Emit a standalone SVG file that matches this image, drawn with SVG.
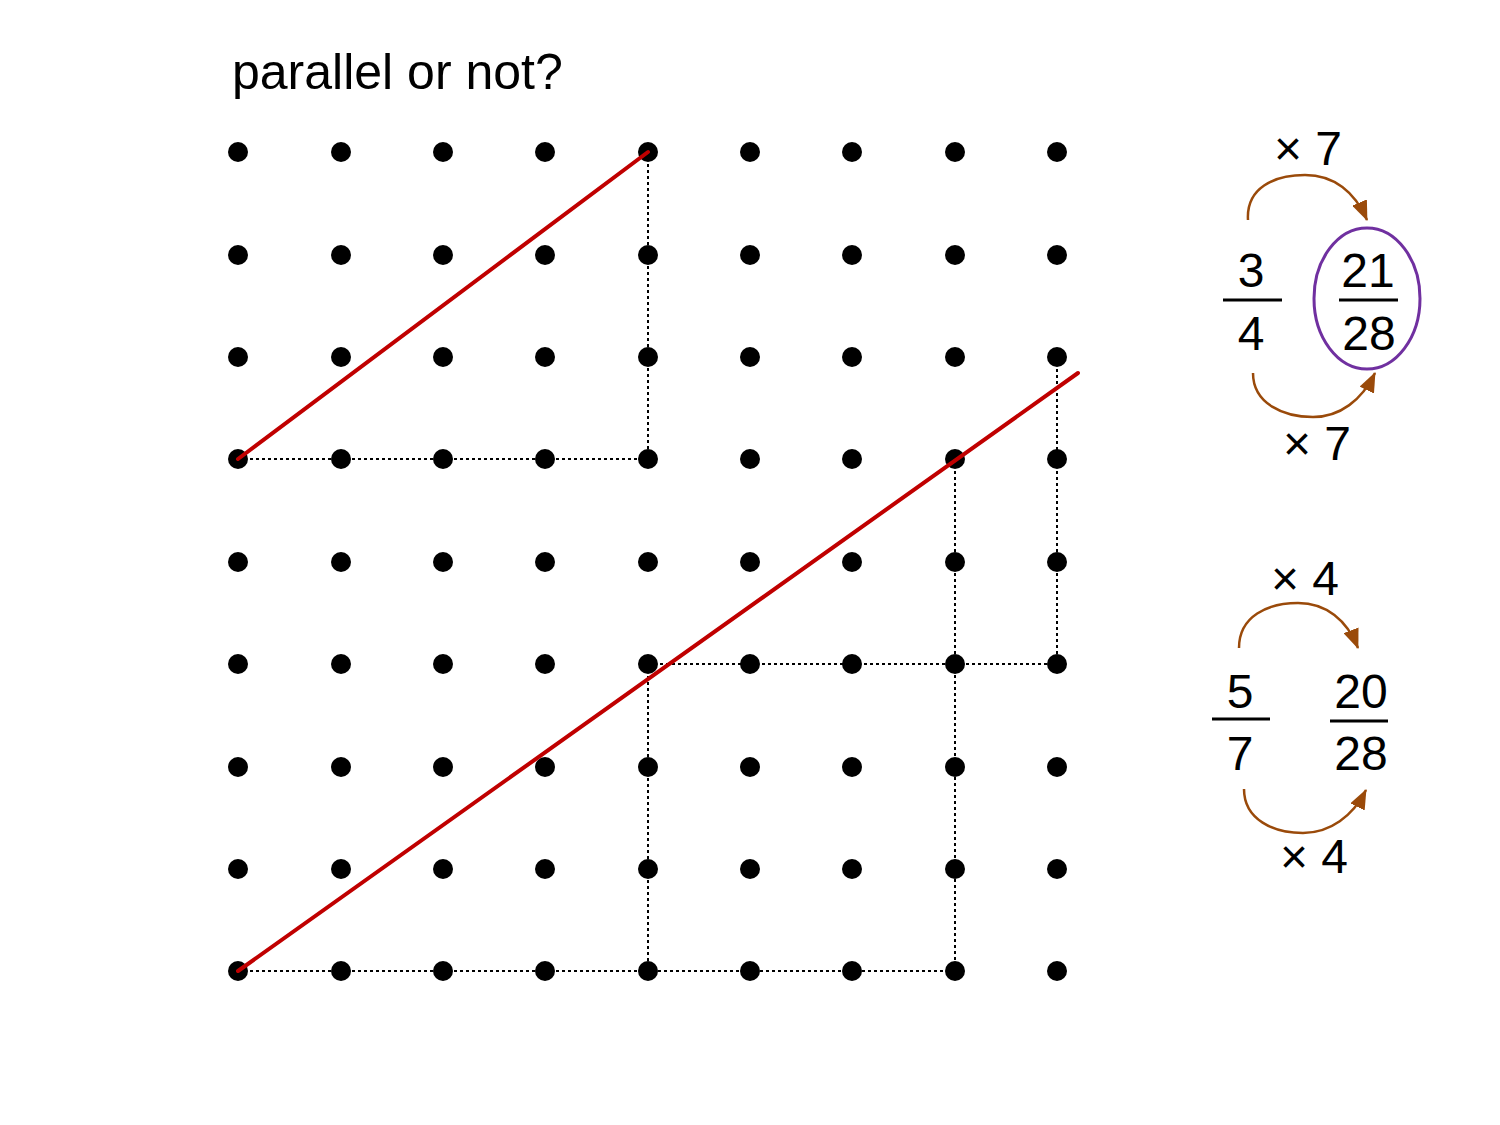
<svg xmlns="http://www.w3.org/2000/svg" width="1500" height="1125" viewBox="0 0 1500 1125">
<defs>
<style>
text{font-family:"Liberation Sans",Arial,sans-serif;fill:#000}
.t{font-size:48px}
.n{font-size:48px;text-anchor:middle}
.fl{stroke:#000;stroke-width:3}
.dot{fill:#000}
.dash{stroke:#000;stroke-width:2;stroke-dasharray:3 3;fill:none}
.red{stroke:#C00000;stroke-width:4;stroke-linecap:round;fill:none}
.arc{stroke:#9A4A0A;stroke-width:2.5;fill:none;marker-end:url(#ah)}
</style>
<marker id="ah" markerUnits="userSpaceOnUse" markerWidth="20" markerHeight="16" viewBox="0 0 20 16" refX="19" refY="8" orient="auto">
<path d="M0,0 L20,8 L0,16 z" fill="#9A4A0A"/>
</marker>
<circle id="d" r="10" class="dot"/>
</defs>
<rect width="1500" height="1125" fill="#fff"/>
<text id="title" x="232" y="89" style="font-size:50px">parallel or not?</text>
<g id="grid">
<g id="r1"><use href="#d" x="238" y="152"/><use href="#d" x="341" y="152"/><use href="#d" x="443" y="152"/><use href="#d" x="545" y="152"/><use href="#d" x="648" y="152"/><use href="#d" x="750" y="152"/><use href="#d" x="852" y="152"/><use href="#d" x="955" y="152"/><use href="#d" x="1057" y="152"/></g>
<g id="r2"><use href="#d" x="238" y="255"/><use href="#d" x="341" y="255"/><use href="#d" x="443" y="255"/><use href="#d" x="545" y="255"/><use href="#d" x="648" y="255"/><use href="#d" x="750" y="255"/><use href="#d" x="852" y="255"/><use href="#d" x="955" y="255"/><use href="#d" x="1057" y="255"/></g>
<g id="r3"><use href="#d" x="238" y="357"/><use href="#d" x="341" y="357"/><use href="#d" x="443" y="357"/><use href="#d" x="545" y="357"/><use href="#d" x="648" y="357"/><use href="#d" x="750" y="357"/><use href="#d" x="852" y="357"/><use href="#d" x="955" y="357"/><use href="#d" x="1057" y="357"/></g>
<g id="r4"><use href="#d" x="238" y="459"/><use href="#d" x="341" y="459"/><use href="#d" x="443" y="459"/><use href="#d" x="545" y="459"/><use href="#d" x="648" y="459"/><use href="#d" x="750" y="459"/><use href="#d" x="852" y="459"/><use href="#d" x="955" y="459"/><use href="#d" x="1057" y="459"/></g>
<g id="r5"><use href="#d" x="238" y="562"/><use href="#d" x="341" y="562"/><use href="#d" x="443" y="562"/><use href="#d" x="545" y="562"/><use href="#d" x="648" y="562"/><use href="#d" x="750" y="562"/><use href="#d" x="852" y="562"/><use href="#d" x="955" y="562"/><use href="#d" x="1057" y="562"/></g>
<g id="r6"><use href="#d" x="238" y="664"/><use href="#d" x="341" y="664"/><use href="#d" x="443" y="664"/><use href="#d" x="545" y="664"/><use href="#d" x="648" y="664"/><use href="#d" x="750" y="664"/><use href="#d" x="852" y="664"/><use href="#d" x="955" y="664"/><use href="#d" x="1057" y="664"/></g>
<g id="r7"><use href="#d" x="238" y="767"/><use href="#d" x="341" y="767"/><use href="#d" x="443" y="767"/><use href="#d" x="545" y="767"/><use href="#d" x="648" y="767"/><use href="#d" x="750" y="767"/><use href="#d" x="852" y="767"/><use href="#d" x="955" y="767"/><use href="#d" x="1057" y="767"/></g>
<g id="r8"><use href="#d" x="238" y="869"/><use href="#d" x="341" y="869"/><use href="#d" x="443" y="869"/><use href="#d" x="545" y="869"/><use href="#d" x="648" y="869"/><use href="#d" x="750" y="869"/><use href="#d" x="852" y="869"/><use href="#d" x="955" y="869"/><use href="#d" x="1057" y="869"/></g>
<g id="r9"><use href="#d" x="238" y="971"/><use href="#d" x="341" y="971"/><use href="#d" x="443" y="971"/><use href="#d" x="545" y="971"/><use href="#d" x="648" y="971"/><use href="#d" x="750" y="971"/><use href="#d" x="852" y="971"/><use href="#d" x="955" y="971"/><use href="#d" x="1057" y="971"/></g>
</g>
<g id="dotted">
<path class="dash" d="M238,459 H648 M648,152 V459"/>
<path class="dash" d="M238,971 H955 M955,459 V971"/>
<path class="dash" d="M648,664 H1057 M648,664 V971 M1057,357 V664"/>
</g>
<g id="lines">
<line class="red" x1="238" y1="459" x2="648" y2="152"/>
<line class="red" x1="238" y1="971" x2="1078" y2="373"/>
</g>
<g id="frac1">
<text class="n" x="1251" y="287">3</text>
<line class="fl" x1="1223" y1="300" x2="1282" y2="300"/>
<text class="n" x="1251" y="350">4</text>
</g>
<g id="frac2">
<text class="n" x="1368" y="287">21</text>
<line class="fl" x1="1339" y1="300" x2="1398" y2="300"/>
<text class="n" x="1369" y="350">28</text>
<ellipse cx="1367" cy="298.5" rx="53" ry="70.5" fill="none" stroke="#7030A0" stroke-width="3"/>
</g>
<g id="frac3">
<text class="n" x="1240" y="708">5</text>
<line class="fl" x1="1212" y1="719" x2="1270" y2="719"/>
<text class="n" x="1240" y="770">7</text>
</g>
<g id="frac4">
<text class="n" x="1361" y="708">20</text>
<line class="fl" x1="1330" y1="721" x2="1388" y2="721"/>
<text class="n" x="1361" y="770">28</text>
</g>
<g id="labels">
<text class="t" x="1274" y="165">× 7</text>
<text class="t" x="1283" y="460">× 7</text>
<text class="t" x="1271" y="595">× 4</text>
<text class="t" x="1280" y="873">× 4</text>
</g>
<g id="connectors">
<path class="arc" d="M1248,220 C1246,188 1274,175 1305,175 C1334,175 1355,192 1367,220"/>
<path class="arc" d="M1253,373 C1253,404 1284,417 1313,417 C1340,417 1362,400 1375,373"/>
<path class="arc" d="M1239,648 C1239,616 1268,603 1298,603 C1326,603 1347,620 1358,648"/>
<path class="arc" d="M1244,789 C1244,820 1274,833 1303,833 C1330,833 1353,816 1366,790"/>
</g>
</svg>
